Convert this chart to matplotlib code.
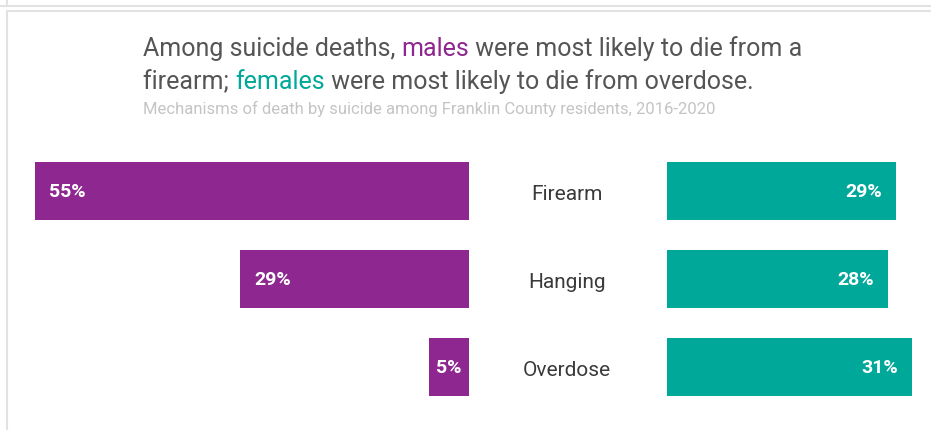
import matplotlib
matplotlib.use("Agg")
from matplotlib import pyplot as plt
from matplotlib.lines import Line2D

categories = ["Firearm", "Hanging", "Overdose"]
males = [55, 29, 5]
females = [29, 28, 31]

purple = "#8e278f"
teal = "#00a89a"
W, H = 931, 431
PX = 7.9  # pixels per percent

plt.rcParams["font.family"] = ["Roboto", "DejaVu Sans"]

fig = plt.figure(figsize=(W / 100, H / 100), dpi=100)

# card borders
for xs, ys in [([7, 7], [0, 7]), ([0, W], [7, 7]), ([7, W], [12, 12]), ([7, 7], [12, H])]:
    fig.add_artist(Line2D([x / W for x in xs], [1 - y / H for y in ys],
                          transform=fig.transFigure, color="#e2e2e2", lw=1.5))

# y layout: category centres at 192, 280, 368 px from top, 88 px apart
top = -192 / 88
bottom = (H - 192) / 88

axl = fig.add_axes([0, 0, 469 / W, 1])
axl.barh(range(3), males, height=58 / 88, color=purple)
axl.set_xlim(469 / PX, 0)
axl.set_ylim(bottom, top)
axl.axis("off")

axr = fig.add_axes([667 / W, 0, (W - 667) / W, 1])
axr.barh(range(3), females, height=58 / 88, color=teal)
axr.set_xlim(0, (W - 667) / PX)
axr.set_ylim(bottom, top)
axr.axis("off")

for i, v in enumerate(males):
    if v < 10:
        axl.text(v / 2, i, f"{v}%", ha="center", va="center", color="white",
                 fontsize=14, fontweight="bold")
    else:
        axl.text(v - 14 / PX, i, f"{v}%", ha="left", va="center", color="white",
                 fontsize=14, fontweight="bold")

for i, v in enumerate(females):
    axr.text(v - 14 / PX, i, f"{v}%", ha="right", va="center", color="white",
             fontsize=14, fontweight="bold")
    axr.text(-100 / PX, i + 0.03, categories[i], ha="center", va="center",
             color="#3a3a3a", fontsize=15)

# title with coloured words
renderer = fig.canvas.get_renderer()


def line(parts, x, y):
    for s, c in parts:
        t = fig.text(x / W, 1 - y / H, s, color=c, fontsize=18, va="baseline")
        x += t.get_window_extent(renderer).width


line([("Among suicide deaths, ", "#555555"), ("males", purple),
      (" were most likely to die from a", "#555555")], 143, 56)
line([("firearm; ", "#555555"), ("females", teal),
      (" were most likely to die from overdose.", "#555555")], 143, 89)
fig.text(143 / W, 1 - 114 / H,
         "Mechanisms of death by suicide among Franklin County residents, 2016-2020",
         color="#c4c4c4", fontsize=12, va="baseline")

fig.savefig("out.png", dpi=100)
